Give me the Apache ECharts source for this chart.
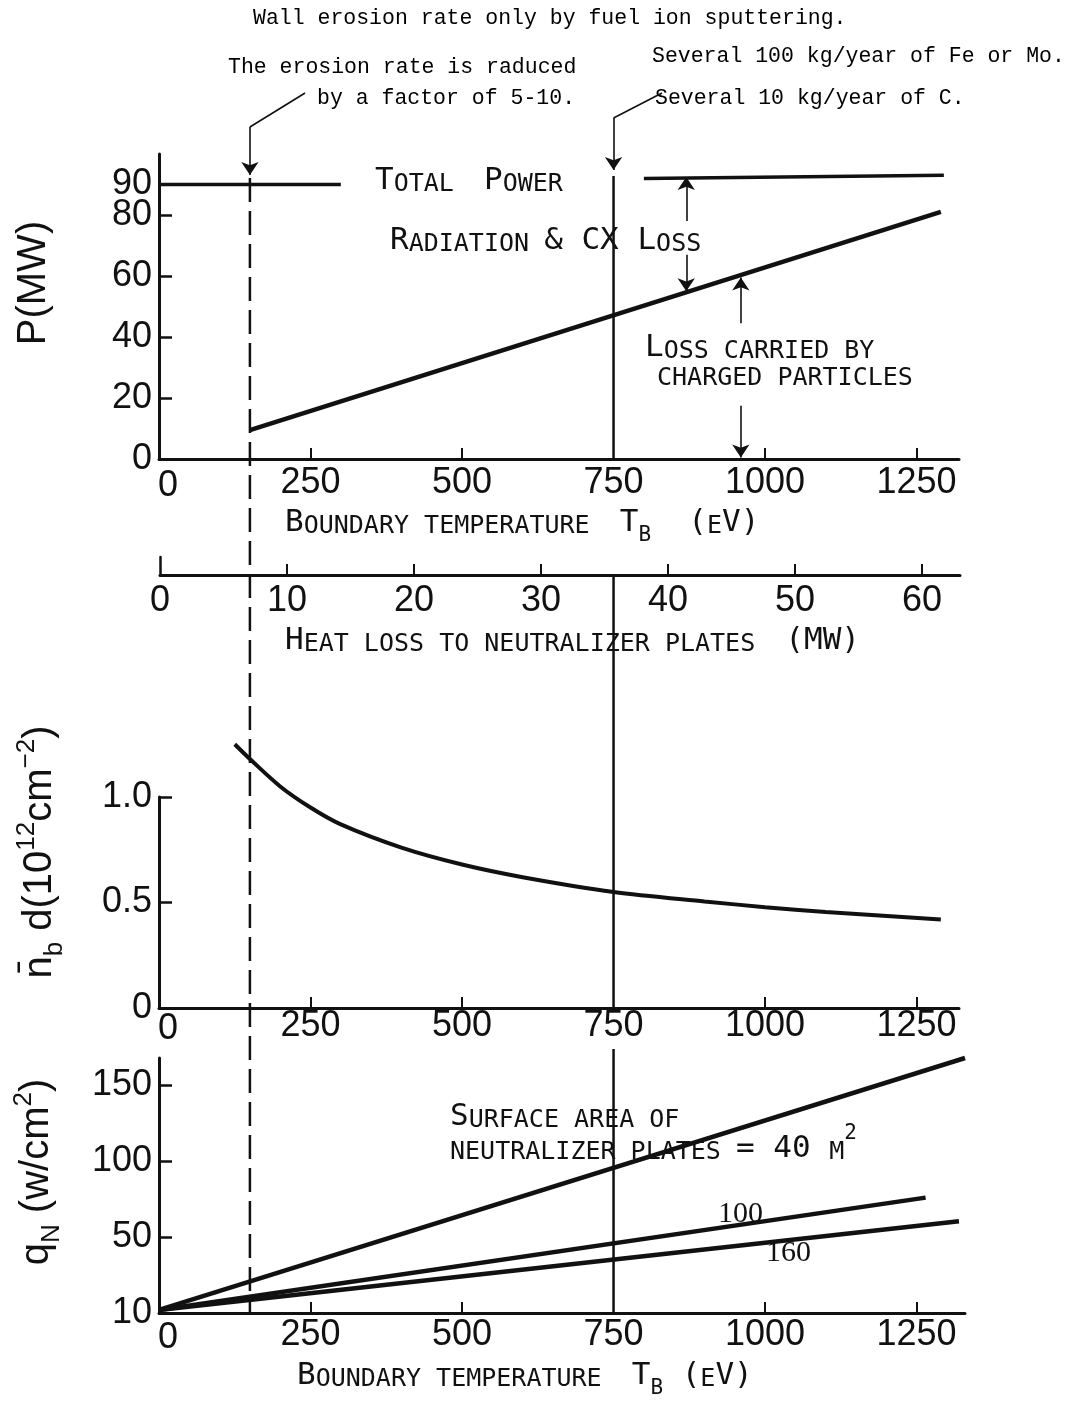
<!DOCTYPE html>
<html>
<head>
<meta charset="utf-8">
<title>Boundary temperature scan</title>
<script src="https://cdn.jsdelivr.net/npm/echarts@6/dist/echarts.min.js"></script>
<style>
  html, body { margin: 0; padding: 0; background: #fff; }
  #main { width: 1065px; height: 1404px; }
</style>
</head>
<body>
<div id="main"></div>
<script>
// values
var tempLabels = [0, 250, 500, 750, 1000, 1250];        // eV
var tempTicks = [250, 500, 1000, 1250];
var powerLabels = [0, 20, 40, 60, 80];                  // MW
var powerTopLabel = [90];
var powerTicks = [20, 40, 60, 80];
var heatLabels = [0, 10, 20, 30, 40, 50, 60];           // MW to plates
var densLabels = [0, 0.5, 1.0];
var fluxLabels = [0, 50, 100, 150];

var totalPower = [[0, 90], [300, 90], [550, '-'], [800, 92], [1295, 93]];
var radiationLoss = [[150, 9.5], [1290, 81]];
var lineDensity = [[125, 1.25], [150, 1.18], [200, 1.05], [250, 0.95], [300, 0.87], [400, 0.76],
  [500, 0.68], [600, 0.62], [750, 0.55], [900, 0.505], [1000, 0.478], [1100, 0.455], [1290, 0.42]];
var flux40 = [[0, 2], [1330, 168]];
var flux100 = [[0, 2], [1265, 76]];
var flux160 = [[0, 2], [1320, 60.5]];
var erosionTemps = [150, 750];   // reduced erosion / sputtering only

var black = '#111';
var chart = echarts.init(document.getElementById('main'));
var PX = 0.606;   // px per eV, same for every panel

var num = { fontFamily: 'Liberation Sans', fontSize: 36, color: black };
var typeFont = '21.5px "Liberation Mono"';

// upper case / digits tall, lower case as small capitals
function smallCaps(s) {
  var out = '', cur = null, buf = '';
  for (var i = 0; i < s.length; i++) {
    var ch = s[i];
    var k = /[a-z]/.test(ch) ? 's' : (ch === ' ' ? (cur || 'b') : 'b');
    if (cur && k !== cur) { out += '{' + cur + '|' + buf + '}'; buf = ''; }
    cur = k;
    buf += k === 's' ? ch.toUpperCase() : ch;
  }
  if (buf) out += '{' + cur + '|' + buf + '}';
  return out;
}
var scRich = {
  b: { fontFamily: 'DejaVu Sans Mono', fontSize: 31, lineHeight: 31, verticalAlign: 'bottom', padding: [0, 0, 8, 0], fill: black },
  s: { fontFamily: 'DejaVu Sans Mono', fontSize: 25, lineHeight: 25, verticalAlign: 'bottom', padding: [0, 0, 8, 0], fill: black },
  sub: { fontFamily: 'DejaVu Sans Mono', fontSize: 21, lineHeight: 21, verticalAlign: 'bottom', padding: [0, 0, 0, 0], fill: black },
  sup: { fontFamily: 'DejaVu Sans Mono', fontSize: 21, lineHeight: 21, verticalAlign: 'bottom', padding: [0, 0, 28, 0], fill: black }
};
var axRich = {
  n: { fontFamily: 'Liberation Sans', fontSize: 40, lineHeight: 40, verticalAlign: 'bottom', padding: [0, 0, 10, 0], fill: black },
  sub: { fontFamily: 'Liberation Sans', fontSize: 26, lineHeight: 26, verticalAlign: 'bottom', padding: [0, 0, 2, 0], fill: black },
  sup: { fontFamily: 'Liberation Sans', fontSize: 26, lineHeight: 26, verticalAlign: 'bottom', padding: [0, 0, 30, 0], fill: black }
};

function scText(x, y, rich) {
  return { type: 'text', x: x, y: y + 6, silent: true,
    style: { text: rich, rich: scRich, fill: black, verticalAlign: 'middle' } };
}
function typeText(x, y, s) {
  return { type: 'text', x: x, y: y, silent: true,
    style: { text: s, font: typeFont, fill: '#000', verticalAlign: 'middle' } };
}
function yTitle(x, y, rich) {
  return { type: 'text', x: x, y: y, rotation: Math.PI / 2, silent: true,
    style: { text: rich, rich: axRich, fill: black, align: 'center', verticalAlign: 'middle' } };
}

function tempAxis(grid, max, margin) {
  return {
    type: 'value', gridIndex: grid, min: 0, max: max,
    axisLine: { show: true, onZero: false, lineStyle: { color: black, width: 3 } },
    axisTick: { show: true, inside: true, length: 11, customValues: tempTicks, lineStyle: { color: black, width: 2 } },
    axisLabel: {
      customValues: tempLabels, margin: margin, hideOverlap: false,
      fontFamily: num.fontFamily, fontSize: num.fontSize, color: black,
      formatter: function (v) { return v === 0 ? '{z|0}' : String(v); },
      rich: { z: { fontFamily: num.fontFamily, fontSize: num.fontSize, color: black, padding: [3, 0, 0, 18] } }
    },
    splitLine: { show: false }
  };
}
function valAxis(grid, max, labels, ticks, fmt) {
  return {
    type: 'value', gridIndex: grid, min: 0, max: max, position: 'left',
    axisLine: { show: true, onZero: false, lineStyle: { color: black, width: 3 } },
    axisTick: { show: true, inside: true, length: 13, customValues: ticks, lineStyle: { color: black, width: 2.5 } },
    axisLabel: { customValues: labels, margin: 7, hideOverlap: false, formatter: fmt,
      fontFamily: num.fontFamily, fontSize: num.fontSize, color: black },
    splitLine: { show: false }
  };
}
function lineSeries(xi, data, width, extra) {
  var s = { type: 'line', xAxisIndex: xi, yAxisIndex: xi, data: data, symbol: 'none', clip: false,
    silent: true, connectNulls: false, lineStyle: { color: black, width: width } };
  for (var k in extra) s[k] = extra[k];
  return s;
}
var arrowLine = { silent: true, animation: false, symbol: ['none', 'arrow'], symbolSize: 13,
  label: { show: false }, emphasis: { disabled: true }, lineStyle: { color: black, width: 1.6, type: 'solid' } };

// second label-only axis so 90 sits right above 80 without being dropped
var powerTopAxis = valAxis(0, 100, powerTopLabel, []);
powerTopAxis.offset = 0;
powerTopAxis.axisLine = { show: false };
powerTopAxis.axisTick = { show: false };

var option = {
  animation: false,
  backgroundColor: '#fff',
  grid: [
    { left: 159, top: 154, width: Math.round(1320 * PX), height: 305 },     // power
    { left: 160, top: 557, width: 800, height: 18 },                        // heat to plates
    { left: 159, top: 797, width: Math.round(1320 * PX), height: 211 },     // line density
    { left: 159, top: 1058, width: Math.round(1330 * PX), height: 255 },    // heat flux
    { left: 159, top: 0, width: Math.round(1320 * PX), height: 1404 }       // overlay for markers
  ],
  xAxis: [
    tempAxis(0, 1320, 6),
    {
      type: 'value', gridIndex: 1, min: 0, max: 63,
      axisLine: { show: true, lineStyle: { color: black, width: 3 } },
      axisTick: { show: true, inside: true, length: 11, customValues: [10, 20, 30, 40, 50, 60], lineStyle: { color: black, width: 2 } },
      axisLabel: { customValues: heatLabels, margin: 8, hideOverlap: false,
        fontFamily: num.fontFamily, fontSize: num.fontSize, color: black },
      splitLine: { show: false }
    },
    tempAxis(2, 1320, 0),
    tempAxis(3, 1330, 4),
    { type: 'value', gridIndex: 4, min: 0, max: 1320, show: false }
  ],
  yAxis: [
    valAxis(0, 100, powerLabels, powerTicks),
    { type: 'value', gridIndex: 1, min: 0, max: 1, axisLine: { show: true, lineStyle: { color: black, width: 2.5 } },
      axisTick: { show: false }, axisLabel: { show: false }, splitLine: { show: false } },
    valAxis(2, 1, densLabels, [0.5, 1.0], function (v) { return v === 0 ? '0' : v.toFixed(1); }),
    valAxis(3, 168, fluxLabels, [50, 100, 150], function (v) { return v === 0 ? '10' : String(v); }),
    { type: 'value', gridIndex: 4, min: 0, max: 1404, inverse: true, show: false },
    powerTopAxis
  ],
  series: [
    lineSeries(0, totalPower, 3.5),
    lineSeries(0, radiationLoss, 4.5, {
      markLine: Object.assign({}, arrowLine, {
        data: [
          [{ coord: [870, 78] }, { coord: [870, 92.5] }],
          [{ coord: [870, 67] }, { coord: [870, 55] }],
          [{ coord: [960, 44.5] }, { coord: [960, 59.5] }],
          [{ coord: [960, 17.5] }, { coord: [960, 0.5] }]
        ]
      })
    }),
    lineSeries(2, lineDensity, 4, { smooth: 0.3 }),
    lineSeries(3, flux40, 4.5),
    lineSeries(3, flux100, 4.5),
    lineSeries(3, flux160, 4.5),
    // boundary temperatures marked through all panels (y in page rows)
    lineSeries(4, [[erosionTemps[0], 178], [erosionTemps[0], 1313]], 2.5, {
      lineStyle: { color: black, width: 2.5, type: [24, 9] }
    }),
    lineSeries(4, [[erosionTemps[1], 176], [erosionTemps[1], 459], [erosionTemps[1], '-'],
      [erosionTemps[1], 575], [erosionTemps[1], 1008], [erosionTemps[1], '-'],
      [erosionTemps[1], 1049], [erosionTemps[1], 1313]], 2.5, {
      markLine: Object.assign({}, arrowLine, {
        data: [
          [{ coord: [241, 93], symbol: 'none' }, { coord: [erosionTemps[0], 127], symbol: 'none' }],
          [{ coord: [erosionTemps[0], 127] }, { coord: [erosionTemps[0], 175] }],
          [{ coord: [830, 93], symbol: 'none' }, { coord: [erosionTemps[1], 118], symbol: 'none' }],
          [{ coord: [erosionTemps[1], 118] }, { coord: [erosionTemps[1], 170] }]
        ]
      })
    })
  ],
  graphic: [
    typeText(253, 18, 'Wall erosion rate only by fuel ion sputtering.'),
    typeText(228, 67, 'The erosion rate is raduced'),
    typeText(317, 98, 'by a factor of 5-10.'),
    typeText(652, 56, 'Several 100 kg/year of Fe or Mo.'),
    typeText(655, 98, 'Several 10 kg/year of C.'),

    scText(375, 183, smallCaps('Total  Power')),
    scText(390, 243, smallCaps('Radiation & CX Loss')),
    scText(645, 350, smallCaps('Loss carried by')),
    scText(657, 380, smallCaps('charged particles')),
    scText(285, 525, smallCaps('Boundary temperature  T') + '{sub|B}' + smallCaps('  (eV)')),
    scText(285, 643, smallCaps('Heat loss to neutralizer plates  (MW)')),
    scText(450, 1119, smallCaps('Surface area of')),
    scText(450, 1151, smallCaps('neutralizer plates = 40 m') + '{sup|2}'),
    scText(297, 1378, smallCaps('Boundary temperature  T') + '{sub|B}' + smallCaps(' (eV)')),
    { type: 'text', x: 718, y: 1214, silent: true,
      style: { text: '100', font: '30px "Liberation Serif"', fill: black, verticalAlign: 'middle' } },
    { type: 'text', x: 766, y: 1253, silent: true,
      style: { text: '160', font: '30px "Liberation Serif"', fill: black, verticalAlign: 'middle' } },

    yTitle(44, 283, '{n|P(MW)}'),
    yTitle(50, 852, '{n|n\u0304}{sub|b}{n| d(10}{sup|12}{n|cm}{sup|\u22122}{n|)}'),
    yTitle(47, 1172, '{n|q}{sub|N}{n| (w/cm}{sup|2}{n|)}')
  ]
};

chart.setOption(option);
window.addEventListener('resize', function () { chart.resize(); });
</script>
</body>
</html>
